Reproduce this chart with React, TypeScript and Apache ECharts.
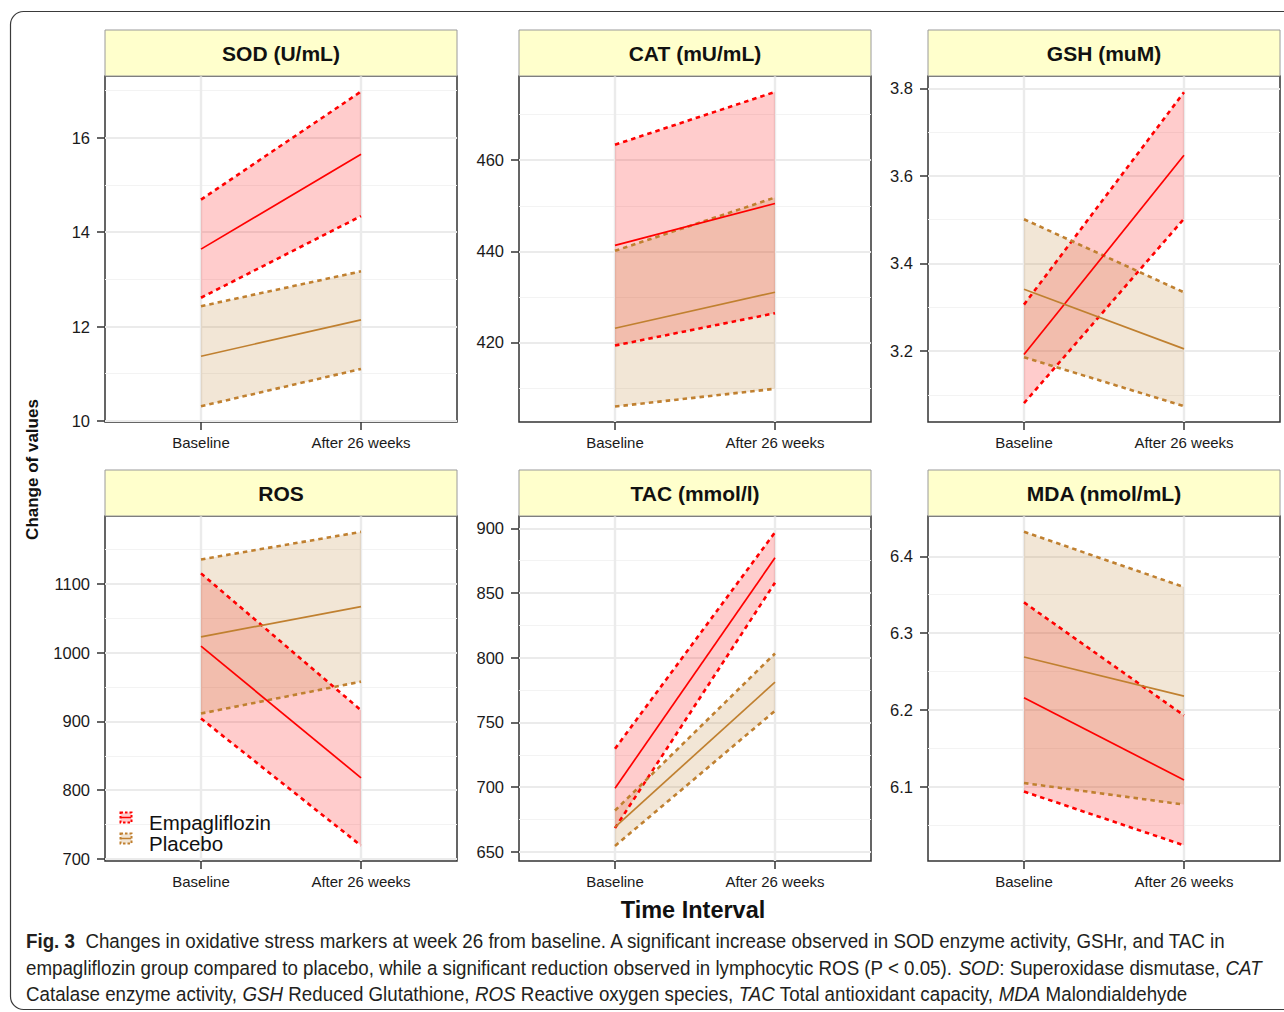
import React, { useEffect, useRef } from 'react';
import * as echarts from 'echarts';

// ---------- data ----------
const xLabels = ['Baseline', 'After 26 weeks'];
const xPositions = [1, 2];
const groupNames = ['Empagliflozin', 'Placebo'];
const panelTitles = ['SOD (U/mL)', 'CAT (mU/mL)', 'GSH (muM)', 'ROS', 'TAC (mmol/l)', 'MDA (nmol/mL)'];

// SOD
const sodEmpMean = [13.64, 15.65];
const sodEmpLow = [12.61, 14.34];
const sodEmpHigh = [14.69, 16.98];
const sodPlaMean = [11.37, 12.14];
const sodPlaLow = [10.31, 11.1];
const sodPlaHigh = [12.43, 13.17];
const sodTicks = [10, 12, 14, 16];
const sodMinor = [11, 13, 15, 17];
const sodRange = [9.976, 17.31];

// CAT
const catEmpMean = [441.3, 450.5];
const catEmpLow = [419.3, 426.4];
const catEmpHigh = [463.4, 475.0];
const catPlaMean = [423.1, 431.0];
const catPlaLow = [405.9, 409.8];
const catPlaHigh = [440.1, 451.8];
const catTicks = [420, 440, 460];
const catMinor = [410, 430, 450, 470];
const catRange = [402.5, 478.5];

// GSH
const gshEmpMean = [3.192, 3.647];
const gshEmpLow = [3.081, 3.502];
const gshEmpHigh = [3.306, 3.791];
const gshPlaMean = [3.341, 3.205];
const gshPlaLow = [3.186, 3.074];
const gshPlaHigh = [3.501, 3.334];
const gshTicks = [3.2, 3.4, 3.6, 3.8];
const gshMinor = [3.1, 3.3, 3.5, 3.7];
const gshRange = [3.038, 3.828];

// ROS
const rosEmpMean = [1009.6, 818];
const rosEmpLow = [904.3, 719.4];
const rosEmpHigh = [1115.5, 916.4];
const rosPlaMean = [1023.2, 1067.1];
const rosPlaLow = [911.6, 958];
const rosPlaHigh = [1135.8, 1175.9];
const rosTicks = [700, 800, 900, 1000, 1100];
const rosMinor = [750, 850, 950, 1050, 1150];
const rosRange = [697, 1199];

// TAC
const tacEmpMean = [699.2, 877.2];
const tacEmpLow = [668.4, 858];
const tacEmpHigh = [729.7, 896.9];
const tacPlaMean = [669.2, 781.2];
const tacPlaLow = [654.6, 759];
const tacPlaHigh = [682, 803.3];
const tacTicks = [650, 700, 750, 800, 850, 900];
const tacMinor = [675, 725, 775, 825, 875];
const tacRange = [643, 909.5];

// MDA
const mdaEmpMean = [6.216, 6.109];
const mdaEmpLow = [6.094, 6.024];
const mdaEmpHigh = [6.34, 6.193];
const mdaPlaMean = [6.269, 6.218];
const mdaPlaLow = [6.105, 6.077];
const mdaPlaHigh = [6.432, 6.36];
const mdaTicks = [6.1, 6.2, 6.3, 6.4];
const mdaMinor = [6.05, 6.15, 6.25, 6.35];
const mdaRange = [6.0036, 6.4524];

const panels = [
  { title: panelTitles[0], range: sodRange, major: sodTicks, minor: sodMinor,
    groups: [[sodEmpMean, sodEmpLow, sodEmpHigh], [sodPlaMean, sodPlaLow, sodPlaHigh]] },
  { title: panelTitles[1], range: catRange, major: catTicks, minor: catMinor,
    groups: [[catEmpMean, catEmpLow, catEmpHigh], [catPlaMean, catPlaLow, catPlaHigh]] },
  { title: panelTitles[2], range: gshRange, major: gshTicks, minor: gshMinor,
    groups: [[gshEmpMean, gshEmpLow, gshEmpHigh], [gshPlaMean, gshPlaLow, gshPlaHigh]] },
  { title: panelTitles[3], range: rosRange, major: rosTicks, minor: rosMinor,
    groups: [[rosEmpMean, rosEmpLow, rosEmpHigh], [rosPlaMean, rosPlaLow, rosPlaHigh]] },
  { title: panelTitles[4], range: tacRange, major: tacTicks, minor: tacMinor,
    groups: [[tacEmpMean, tacEmpLow, tacEmpHigh], [tacPlaMean, tacPlaLow, tacPlaHigh]] },
  { title: panelTitles[5], range: mdaRange, major: mdaTicks, minor: mdaMinor,
    groups: [[mdaEmpMean, mdaEmpLow, mdaEmpHigh], [mdaPlaMean, mdaPlaLow, mdaPlaHigh]] },
];

const captionLines = [
  '{b|Fig. 3}  Changes in oxidative stress markers at week 26 from baseline. A significant increase observed in SOD enzyme activity, GSHr, and TAC in',
  'empagliflozin group compared to placebo, while a significant reduction observed in lymphocytic ROS (P < 0.05). {i|SOD}: Superoxidase dismutase, {i|CAT}',
  'Catalase enzyme activity, {i|GSH} Reduced Glutathione, {i|ROS} Reactive oxygen species, {i|TAC} Total antioxidant capacity, {i|MDA} Malondialdehyde',
];

// ---------- styles / layout ----------
const FONT = '"Liberation Sans", Arial, sans-serif';
const CAPFONT = '"Liberation Sans", Arial, sans-serif';
const CAP_SIZE = 20.5;
const CAP_SCALE = 0.915;
const lineColors = ['#FF0000', '#C08030'];
const fillColors = ['rgba(255,0,0,0.2)', 'rgba(192,128,48,0.2)'];
const gridRects = [
  [105, 76, 352, 346],
  [519, 76, 352, 346],
  [928, 76, 352, 346],
  [105, 516, 352, 345],
  [519, 516, 352, 345],
  [928, 516, 352, 345],
];
const STRIP_H = 46;

function buildOption() {
  const grid: any[] = [];
  const xAxis: any[] = [];
  const yAxis: any[] = [];
  const series: any[] = [];
  const graphic: any[] = [];

  graphic.push({
    type: 'rect', z: 0,
    shape: { x: 10.5, y: 11.5, width: 1320, height: 998, r: 13 },
    style: { fill: 'none', stroke: '#3a3a3a', lineWidth: 1.2 },
  });

  panels.forEach((p, idx) => {
    const [l, t, w, h] = gridRects[idx];
    grid.push({
      left: l, top: t, width: w, height: h,
      show: true, borderColor: '#333333', borderWidth: 1.5, backgroundColor: 'transparent',
    });
    xAxis.push({
      gridIndex: idx, type: 'value', min: 0.4, max: 2.6,
      axisLine: { show: false },
      axisTick: { show: true, customValues: xPositions, length: 8, lineStyle: { color: '#333', width: 1.5 } },
      axisLabel: {
        show: true, customValues: xPositions, margin: 13, fontSize: 15, color: '#1a1a1a', fontFamily: FONT,
        formatter: (v: number) => xLabels[Math.round(v) - 1] ?? '',
      },
      splitLine: { show: true, lineStyle: { color: '#EBEBEB', width: 2.4 } },
    });
    yAxis.push({
      gridIndex: idx, type: 'value', min: p.range[0], max: p.range[1], position: 'left',
      axisLine: { show: false },
      axisTick: { show: true, customValues: p.major, length: 8, lineStyle: { color: '#333', width: 1.5 } },
      axisLabel: {
        show: true, customValues: p.major, margin: 15, fontSize: 16.5, color: '#1a1a1a', fontFamily: FONT,
        formatter: (v: number) => String(v),
      },
      splitLine: { show: true, lineStyle: { color: '#EBEBEB', width: 2.2 } },
    });
    yAxis.push({
      gridIndex: idx, type: 'value', min: p.range[0], max: p.range[1], position: 'left',
      axisLine: { show: false },
      axisTick: { show: false, customValues: p.minor },
      axisLabel: { show: false, customValues: p.minor },
      splitLine: { show: true, lineStyle: { color: '#F3F3F3', width: 1.2 } },
    });

    // ribbons
    p.groups.forEach((g, gi) => {
      const low = g[1];
      const high = g[2];
      series.push({
        type: 'custom', name: groupNames[gi], xAxisIndex: idx, yAxisIndex: idx * 2, z: 2, silent: true,
        data: xPositions.map((x, i) => [x, low[i], high[i]]),
        encode: { x: 0, y: [1, 2] },
        renderItem: (params: any, api: any) => {
          if (params.dataIndex !== 0) return null;
          const pts: number[][] = [];
          xPositions.forEach((x, i) => pts.push(api.coord([x, high[i]])));
          for (let i = xPositions.length - 1; i >= 0; i--) pts.push(api.coord([xPositions[i], low[i]]));
          return { type: 'polygon', shape: { points: pts }, style: { fill: fillColors[gi], stroke: null } };
        },
      });
    });
    // CI border lines
    p.groups.forEach((g, gi) => {
      const [, low, high] = g;
      [low, high].forEach((arr) => {
        series.push({
          type: 'line', name: groupNames[gi], xAxisIndex: idx, yAxisIndex: idx * 2, z: 3, silent: true,
          data: xPositions.map((x, i) => [x, arr[i]]), symbol: 'none',
          lineStyle: { color: lineColors[gi], width: 2.6, type: [4.5, 4], cap: 'butt' },
        });
      });
    });
    // mean lines
    p.groups.forEach((g, gi) => {
      const mean = g[0];
      series.push({
        type: 'line', name: groupNames[gi], xAxisIndex: idx, yAxisIndex: idx * 2, z: 4, silent: true,
        data: xPositions.map((x, i) => [x, mean[i]]), symbol: 'none',
        lineStyle: { color: lineColors[gi], width: 1.7 },
      });
    });

    // strip
    graphic.push({
      type: 'rect', z: 5,
      shape: { x: l, y: t - STRIP_H, width: w, height: STRIP_H },
      style: { fill: '#FFFFCC', stroke: '#9a9a9a', lineWidth: 1 },
    });
    graphic.push({
      type: 'text', z: 6, x: l + w / 2, y: t - STRIP_H / 2,
      style: {
        text: p.title, align: 'center', verticalAlign: 'middle',
        fontSize: 21, fontWeight: 'bold', fontFamily: FONT, fill: '#111',
      },
    });
  });

  // axis titles
  graphic.push({
    type: 'text', z: 6, x: 32.5, y: 469.5, rotation: Math.PI / 2,
    style: { text: 'Change of values', align: 'center', verticalAlign: 'middle', fontSize: 17, fontWeight: 'bold', fontFamily: FONT, fill: '#111' },
  });
  graphic.push({
    type: 'text', z: 6, x: 693, y: 910,
    style: { text: 'Time Interval', align: 'center', verticalAlign: 'middle', fontSize: 23.5, fontWeight: 'bold', fontFamily: FONT, fill: '#111' },
  });

  // legend (inside ROS panel)
  groupNames.forEach((name, gi) => {
    const ky = 812.5 + gi * 21;
    graphic.push({
      type: 'rect', z: 7, shape: { x: 120.5, y: ky, width: 11, height: 10 },
      style: { fill: fillColors[gi], stroke: lineColors[gi], lineWidth: 2, lineDash: [2.5, 2] },
    });
    graphic.push({
      type: 'line', z: 8, shape: { x1: 121, y1: ky + 5, x2: 131, y2: ky + 5 },
      style: { stroke: lineColors[gi], lineWidth: 1.5 },
    });
    graphic.push({
      type: 'text', z: 8, x: 149, y: ky + 10,
      style: {
        text: name, align: 'left', verticalAlign: 'middle', fontSize: 20.5, lineHeight: 19,
        fontFamily: FONT, fill: '#111',
      },
    });
  });

  // caption
  const capY = [941, 968, 994];
  captionLines.forEach((line, i) => {
    graphic.push({
      type: 'text', z: 8, x: 26, y: capY[i], scaleX: CAP_SCALE,
      style: {
        text: line, align: 'left', verticalAlign: 'middle',
        fontSize: CAP_SIZE, fontFamily: CAPFONT, fill: '#231f20',
        rich: {
          b: { fontSize: CAP_SIZE, fontFamily: CAPFONT, fontWeight: 'bold', fill: '#231f20' },
          i: { fontSize: CAP_SIZE, fontFamily: CAPFONT, fontStyle: 'italic', fill: '#231f20' },
        },
      },
    });
  });

  return {
    animation: false,
    backgroundColor: '#ffffff',
    grid, xAxis, yAxis, series, graphic,
  };
}

export default function App() {
  const ref = useRef<HTMLDivElement>(null);
  useEffect(() => {
    if (!ref.current) return;
    const chart = echarts.init(ref.current, undefined, { renderer: 'svg' });
    chart.setOption(buildOption() as any);
    return () => chart.dispose();
  }, []);
  return (
    <div
      ref={ref}
      style={{ position: 'fixed', left: 0, top: 0, width: 1284, height: 1012 }}
    />
  );
}
